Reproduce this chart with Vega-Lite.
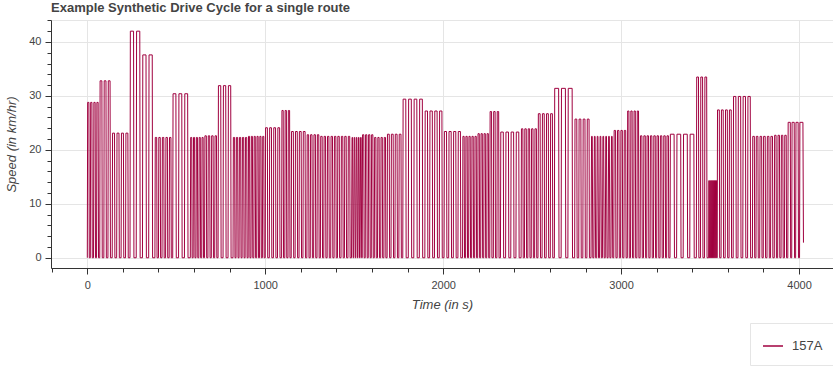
{
"$schema": "https://vega.github.io/schema/vega-lite/v6.json",
"width": 782, "height": 248,
"autosize": "none",
"padding": {"left": 51, "top": 20, "right": 0, "bottom": 105},
"background": "white",
"config": {"view": {"stroke": "#e5e5e5"}, "font": "Liberation Sans"},
"title": {"text": "Example Synthetic Drive Cycle for a single route", "anchor": "start", "frame": "group", "fontSize": 13, "fontWeight": "bold", "color": "#444444", "offset": -1, "font": "Liberation Sans"},
"data": {"values": [
{"t":0,"v":0},{"t":2,"v":28.8},{"t":9,"v":28.8},{"t":11,"v":0},{"t":17,"v":0},{"t":19,"v":28.8},{"t":26,"v":28.8},{"t":28,"v":0},{"t":35,"v":0},{"t":37,"v":28.8},{"t":44,"v":28.8},{"t":46,"v":0},{"t":52,"v":0},{"t":54,"v":28.8},{"t":61,"v":28.8},{"t":63,"v":0},
{"t":70,"v":0},{"t":72,"v":32.8},{"t":82,"v":32.8},{"t":84,"v":0},{"t":93,"v":0},{"t":95,"v":32.8},{"t":105,"v":32.8},{"t":107,"v":0},{"t":116,"v":0},{"t":118,"v":32.8},{"t":128,"v":32.8},{"t":130,"v":0},
{"t":140,"v":0},{"t":142,"v":23.1},{"t":153,"v":23.1},{"t":155,"v":0},{"t":165,"v":0},{"t":167,"v":23.1},{"t":178,"v":23.1},{"t":180,"v":0},{"t":190,"v":0},{"t":192,"v":23.1},{"t":203,"v":23.1},{"t":205,"v":0},{"t":215,"v":0},{"t":217,"v":23.1},{"t":228,"v":23.1},{"t":230,"v":0},
{"t":240,"v":0},{"t":242,"v":42},{"t":260,"v":42},{"t":262,"v":0},{"t":275,"v":0},{"t":277,"v":42},{"t":295,"v":42},{"t":297,"v":0},
{"t":310,"v":0},{"t":312,"v":37.6},{"t":330,"v":37.6},{"t":332,"v":0},{"t":345,"v":0},{"t":347,"v":37.6},{"t":365,"v":37.6},{"t":367,"v":0},
{"t":380,"v":0},{"t":382,"v":22.3},{"t":390,"v":22.3},{"t":392,"v":0},{"t":400,"v":0},{"t":402,"v":22.3},{"t":410,"v":22.3},{"t":412,"v":0},{"t":420,"v":0},{"t":422,"v":22.3},{"t":430,"v":22.3},{"t":432,"v":0},{"t":440,"v":0},{"t":442,"v":22.3},{"t":450,"v":22.3},{"t":452,"v":0},{"t":460,"v":0},{"t":462,"v":22.3},{"t":470,"v":22.3},{"t":472,"v":0},
{"t":480,"v":0},{"t":482,"v":30.4},{"t":498,"v":30.4},{"t":500,"v":0},{"t":513,"v":0},{"t":515,"v":30.4},{"t":531,"v":30.4},{"t":533,"v":0},{"t":546,"v":0},{"t":548,"v":30.4},{"t":564,"v":30.4},{"t":566,"v":0},
{"t":579,"v":0},{"t":581,"v":22.3},{"t":587,"v":22.3},{"t":589,"v":0},{"t":595,"v":0},{"t":597,"v":22.3},{"t":603,"v":22.3},{"t":605,"v":0},{"t":611,"v":0},{"t":613,"v":22.3},{"t":619,"v":22.3},{"t":621,"v":0},{"t":627,"v":0},{"t":629,"v":22.3},{"t":635,"v":22.3},{"t":637,"v":0},{"t":643,"v":0},{"t":645,"v":22.3},{"t":651,"v":22.3},{"t":653,"v":0},
{"t":659,"v":0},{"t":661,"v":22.6},{"t":669,"v":22.6},{"t":671,"v":0},{"t":678,"v":0},{"t":680,"v":22.6},{"t":688,"v":22.6},{"t":690,"v":0},{"t":697,"v":0},{"t":699,"v":22.6},{"t":707,"v":22.6},{"t":709,"v":0},{"t":716,"v":0},{"t":718,"v":22.6},{"t":726,"v":22.6},{"t":728,"v":0},
{"t":735,"v":0},{"t":737,"v":31.9},{"t":750,"v":31.9},{"t":752,"v":0},{"t":763,"v":0},{"t":765,"v":31.9},{"t":778,"v":31.9},{"t":780,"v":0},{"t":791,"v":0},{"t":793,"v":31.9},{"t":806,"v":31.9},{"t":808,"v":0},
{"t":819,"v":0},{"t":821,"v":22.3},{"t":828,"v":22.3},{"t":830,"v":0},{"t":836,"v":0},{"t":838,"v":22.3},{"t":845,"v":22.3},{"t":847,"v":0},{"t":853,"v":0},{"t":855,"v":22.3},{"t":862,"v":22.3},{"t":864,"v":0},{"t":870,"v":0},{"t":872,"v":22.3},{"t":879,"v":22.3},{"t":881,"v":0},{"t":887,"v":0},{"t":889,"v":22.3},{"t":896,"v":22.3},{"t":898,"v":0},
{"t":904,"v":0},{"t":906,"v":22.5},{"t":912,"v":22.5},{"t":914,"v":0},{"t":920,"v":0},{"t":922,"v":22.5},{"t":928,"v":22.5},{"t":930,"v":0},{"t":936,"v":0},{"t":938,"v":22.5},{"t":944,"v":22.5},{"t":946,"v":0},{"t":952,"v":0},{"t":954,"v":22.5},{"t":960,"v":22.5},{"t":962,"v":0},{"t":968,"v":0},{"t":970,"v":22.5},{"t":976,"v":22.5},{"t":978,"v":0},{"t":984,"v":0},{"t":986,"v":22.5},{"t":992,"v":22.5},{"t":994,"v":0},
{"t":1000,"v":0},{"t":1002,"v":24.1},{"t":1012,"v":24.1},{"t":1014,"v":0},{"t":1023,"v":0},{"t":1025,"v":24.1},{"t":1035,"v":24.1},{"t":1037,"v":0},{"t":1046,"v":0},{"t":1048,"v":24.1},{"t":1058,"v":24.1},{"t":1060,"v":0},{"t":1069,"v":0},{"t":1071,"v":24.1},{"t":1081,"v":24.1},{"t":1083,"v":0},
{"t":1092,"v":0},{"t":1094,"v":27.3},{"t":1101,"v":27.3},{"t":1103,"v":0},{"t":1110,"v":0},{"t":1112,"v":27.3},{"t":1119,"v":27.3},{"t":1121,"v":0},{"t":1128,"v":0},{"t":1130,"v":27.3},{"t":1137,"v":27.3},{"t":1139,"v":0},
{"t":1146,"v":0},{"t":1148,"v":23.4},{"t":1158,"v":23.4},{"t":1160,"v":0},{"t":1168,"v":0},{"t":1170,"v":23.4},{"t":1180,"v":23.4},{"t":1182,"v":0},{"t":1190,"v":0},{"t":1192,"v":23.4},{"t":1202,"v":23.4},{"t":1204,"v":0},{"t":1212,"v":0},{"t":1214,"v":23.4},{"t":1224,"v":23.4},{"t":1226,"v":0},
{"t":1234,"v":0},{"t":1236,"v":22.8},{"t":1244,"v":22.8},{"t":1246,"v":0},{"t":1253,"v":0},{"t":1255,"v":22.8},{"t":1263,"v":22.8},{"t":1265,"v":0},{"t":1272,"v":0},{"t":1274,"v":22.8},{"t":1282,"v":22.8},{"t":1284,"v":0},{"t":1291,"v":0},{"t":1293,"v":22.8},{"t":1301,"v":22.8},{"t":1303,"v":0},
{"t":1310,"v":0},{"t":1312,"v":22.5},{"t":1320,"v":22.5},{"t":1322,"v":0},{"t":1329,"v":0},{"t":1331,"v":22.5},{"t":1339,"v":22.5},{"t":1341,"v":0},{"t":1348,"v":0},{"t":1350,"v":22.5},{"t":1358,"v":22.5},{"t":1360,"v":0},{"t":1368,"v":0},{"t":1370,"v":22.5},{"t":1378,"v":22.5},{"t":1380,"v":0},{"t":1387,"v":0},{"t":1389,"v":22.5},{"t":1397,"v":22.5},{"t":1399,"v":0},{"t":1406,"v":0},{"t":1408,"v":22.5},{"t":1416,"v":22.5},{"t":1418,"v":0},{"t":1426,"v":0},{"t":1428,"v":22.5},{"t":1436,"v":22.5},{"t":1438,"v":0},{"t":1445,"v":0},{"t":1447,"v":22.5},{"t":1455,"v":22.5},{"t":1457,"v":0},{"t":1465,"v":0},{"t":1467,"v":22.5},{"t":1475,"v":22.5},{"t":1477,"v":0},
{"t":1485,"v":0},{"t":1488,"v":22.3},{"t":1491,"v":22.3},{"t":1494,"v":0},{"t":1497,"v":0},{"t":1500,"v":22.3},{"t":1503,"v":22.3},{"t":1506,"v":0},{"t":1509,"v":0},{"t":1512,"v":22.3},{"t":1515,"v":22.3},{"t":1518,"v":0},{"t":1521,"v":0},{"t":1524,"v":22.3},{"t":1527,"v":22.3},{"t":1530,"v":0},{"t":1533,"v":0},{"t":1536,"v":22.3},{"t":1539,"v":22.3},{"t":1542,"v":0},
{"t":1545,"v":0},{"t":1547,"v":22.8},{"t":1554,"v":22.8},{"t":1556,"v":0},{"t":1562,"v":0},{"t":1564,"v":22.8},{"t":1571,"v":22.8},{"t":1573,"v":0},{"t":1579,"v":0},{"t":1581,"v":22.8},{"t":1588,"v":22.8},{"t":1590,"v":0},{"t":1596,"v":0},{"t":1598,"v":22.8},{"t":1605,"v":22.8},{"t":1607,"v":0},
{"t":1613,"v":0},{"t":1615,"v":22.3},{"t":1622,"v":22.3},{"t":1624,"v":0},{"t":1631,"v":0},{"t":1633,"v":22.3},{"t":1640,"v":22.3},{"t":1642,"v":0},{"t":1649,"v":0},{"t":1651,"v":22.3},{"t":1658,"v":22.3},{"t":1660,"v":0},{"t":1667,"v":0},{"t":1669,"v":22.3},{"t":1676,"v":22.3},{"t":1678,"v":0},
{"t":1685,"v":0},{"t":1687,"v":22.9},{"t":1697,"v":22.9},{"t":1699,"v":0},{"t":1707,"v":0},{"t":1709,"v":22.9},{"t":1719,"v":22.9},{"t":1721,"v":0},{"t":1729,"v":0},{"t":1731,"v":22.9},{"t":1741,"v":22.9},{"t":1743,"v":0},{"t":1751,"v":0},{"t":1753,"v":22.9},{"t":1763,"v":22.9},{"t":1765,"v":0},
{"t":1773,"v":0},{"t":1775,"v":29.4},{"t":1790,"v":29.4},{"t":1792,"v":0},{"t":1804,"v":0},{"t":1806,"v":29.4},{"t":1821,"v":29.4},{"t":1823,"v":0},{"t":1835,"v":0},{"t":1837,"v":29.4},{"t":1852,"v":29.4},{"t":1854,"v":0},{"t":1866,"v":0},{"t":1868,"v":29.4},{"t":1883,"v":29.4},{"t":1885,"v":0},
{"t":1897,"v":0},{"t":1899,"v":27.2},{"t":1912,"v":27.2},{"t":1914,"v":0},{"t":1924,"v":0},{"t":1926,"v":27.2},{"t":1939,"v":27.2},{"t":1941,"v":0},{"t":1951,"v":0},{"t":1953,"v":27.2},{"t":1966,"v":27.2},{"t":1968,"v":0},{"t":1978,"v":0},{"t":1980,"v":27.2},{"t":1993,"v":27.2},{"t":1995,"v":0},
{"t":2005,"v":0},{"t":2007,"v":23.4},{"t":2019,"v":23.4},{"t":2021,"v":0},{"t":2031,"v":0},{"t":2033,"v":23.4},{"t":2045,"v":23.4},{"t":2047,"v":0},{"t":2057,"v":0},{"t":2059,"v":23.4},{"t":2071,"v":23.4},{"t":2073,"v":0},{"t":2083,"v":0},{"t":2085,"v":23.4},{"t":2097,"v":23.4},{"t":2099,"v":0},
{"t":2109,"v":0},{"t":2111,"v":22.5},{"t":2118,"v":22.5},{"t":2120,"v":0},{"t":2126,"v":0},{"t":2128,"v":22.5},{"t":2135,"v":22.5},{"t":2137,"v":0},{"t":2143,"v":0},{"t":2145,"v":22.5},{"t":2152,"v":22.5},{"t":2154,"v":0},{"t":2160,"v":0},{"t":2162,"v":22.5},{"t":2169,"v":22.5},{"t":2171,"v":0},{"t":2177,"v":0},{"t":2179,"v":22.5},{"t":2186,"v":22.5},{"t":2188,"v":0},
{"t":2194,"v":0},{"t":2196,"v":23},{"t":2203,"v":23},{"t":2205,"v":0},{"t":2211,"v":0},{"t":2213,"v":23},{"t":2220,"v":23},{"t":2222,"v":0},{"t":2228,"v":0},{"t":2230,"v":23},{"t":2237,"v":23},{"t":2239,"v":0},{"t":2245,"v":0},{"t":2247,"v":23},{"t":2254,"v":23},{"t":2256,"v":0},
{"t":2262,"v":0},{"t":2264,"v":27.1},{"t":2272,"v":27.1},{"t":2274,"v":0},{"t":2282,"v":0},{"t":2284,"v":27.1},{"t":2292,"v":27.1},{"t":2294,"v":0},{"t":2302,"v":0},{"t":2304,"v":27.1},{"t":2312,"v":27.1},{"t":2314,"v":0},
{"t":2322,"v":0},{"t":2324,"v":23.3},{"t":2338,"v":23.3},{"t":2340,"v":0},{"t":2351,"v":0},{"t":2353,"v":23.3},{"t":2367,"v":23.3},{"t":2369,"v":0},{"t":2380,"v":0},{"t":2382,"v":23.3},{"t":2396,"v":23.3},{"t":2398,"v":0},{"t":2409,"v":0},{"t":2411,"v":23.3},{"t":2425,"v":23.3},{"t":2427,"v":0},
{"t":2438,"v":0},{"t":2440,"v":23.9},{"t":2448,"v":23.9},{"t":2450,"v":0},{"t":2457,"v":0},{"t":2459,"v":23.9},{"t":2467,"v":23.9},{"t":2469,"v":0},{"t":2476,"v":0},{"t":2478,"v":23.9},{"t":2486,"v":23.9},{"t":2488,"v":0},{"t":2495,"v":0},{"t":2497,"v":23.9},{"t":2505,"v":23.9},{"t":2507,"v":0},{"t":2514,"v":0},{"t":2516,"v":23.9},{"t":2524,"v":23.9},{"t":2526,"v":0},
{"t":2533,"v":0},{"t":2535,"v":26.7},{"t":2545,"v":26.7},{"t":2547,"v":0},{"t":2556,"v":0},{"t":2558,"v":26.7},{"t":2568,"v":26.7},{"t":2570,"v":0},{"t":2579,"v":0},{"t":2581,"v":26.7},{"t":2591,"v":26.7},{"t":2593,"v":0},{"t":2602,"v":0},{"t":2604,"v":26.7},{"t":2614,"v":26.7},{"t":2616,"v":0},
{"t":2625,"v":0},{"t":2627,"v":31.4},{"t":2649,"v":31.4},{"t":2651,"v":0},{"t":2663,"v":0},{"t":2665,"v":31.4},{"t":2687,"v":31.4},{"t":2689,"v":0},{"t":2701,"v":0},{"t":2703,"v":31.4},{"t":2725,"v":31.4},{"t":2727,"v":0},
{"t":2739,"v":0},{"t":2741,"v":25.7},{"t":2751,"v":25.7},{"t":2753,"v":0},{"t":2762,"v":0},{"t":2764,"v":25.7},{"t":2774,"v":25.7},{"t":2776,"v":0},{"t":2785,"v":0},{"t":2787,"v":25.7},{"t":2797,"v":25.7},{"t":2799,"v":0},{"t":2808,"v":0},{"t":2810,"v":25.7},{"t":2820,"v":25.7},{"t":2822,"v":0},
{"t":2831,"v":0},{"t":2834,"v":22.5},{"t":2838,"v":22.5},{"t":2841,"v":0},{"t":2847,"v":0},{"t":2850,"v":22.5},{"t":2854,"v":22.5},{"t":2857,"v":0},{"t":2863,"v":0},{"t":2866,"v":22.5},{"t":2870,"v":22.5},{"t":2873,"v":0},{"t":2879,"v":0},{"t":2882,"v":22.5},{"t":2886,"v":22.5},{"t":2889,"v":0},{"t":2895,"v":0},{"t":2898,"v":22.5},{"t":2902,"v":22.5},{"t":2905,"v":0},{"t":2911,"v":0},{"t":2914,"v":22.5},{"t":2918,"v":22.5},{"t":2921,"v":0},{"t":2927,"v":0},{"t":2930,"v":22.5},{"t":2934,"v":22.5},{"t":2937,"v":0},{"t":2943,"v":0},{"t":2946,"v":22.5},{"t":2950,"v":22.5},{"t":2953,"v":0},
{"t":2959,"v":0},{"t":2961,"v":23.6},{"t":2969,"v":23.6},{"t":2971,"v":0},{"t":2978,"v":0},{"t":2980,"v":23.6},{"t":2988,"v":23.6},{"t":2990,"v":0},{"t":2997,"v":0},{"t":2999,"v":23.6},{"t":3007,"v":23.6},{"t":3009,"v":0},{"t":3016,"v":0},{"t":3018,"v":23.6},{"t":3026,"v":23.6},{"t":3028,"v":0},
{"t":3035,"v":0},{"t":3037,"v":27.2},{"t":3044,"v":27.2},{"t":3046,"v":0},{"t":3053,"v":0},{"t":3055,"v":27.2},{"t":3062,"v":27.2},{"t":3064,"v":0},{"t":3071,"v":0},{"t":3073,"v":27.2},{"t":3080,"v":27.2},{"t":3082,"v":0},{"t":3089,"v":0},{"t":3091,"v":27.2},{"t":3098,"v":27.2},{"t":3100,"v":0},
{"t":3107,"v":0},{"t":3109,"v":22.6},{"t":3117,"v":22.6},{"t":3119,"v":0},{"t":3126,"v":0},{"t":3128,"v":22.6},{"t":3136,"v":22.6},{"t":3138,"v":0},{"t":3144,"v":0},{"t":3146,"v":22.6},{"t":3154,"v":22.6},{"t":3156,"v":0},{"t":3163,"v":0},{"t":3165,"v":22.6},{"t":3173,"v":22.6},{"t":3175,"v":0},{"t":3182,"v":0},{"t":3184,"v":22.6},{"t":3192,"v":22.6},{"t":3194,"v":0},{"t":3200,"v":0},{"t":3202,"v":22.6},{"t":3210,"v":22.6},{"t":3212,"v":0},{"t":3219,"v":0},{"t":3221,"v":22.6},{"t":3229,"v":22.6},{"t":3231,"v":0},{"t":3238,"v":0},{"t":3240,"v":22.6},{"t":3248,"v":22.6},{"t":3250,"v":0},{"t":3256,"v":0},{"t":3258,"v":22.6},{"t":3266,"v":22.6},{"t":3268,"v":0},
{"t":3275,"v":0},{"t":3277,"v":22.9},{"t":3298,"v":22.9},{"t":3300,"v":0},{"t":3312,"v":0},{"t":3314,"v":22.9},{"t":3335,"v":22.9},{"t":3337,"v":0},{"t":3349,"v":0},{"t":3351,"v":22.9},{"t":3372,"v":22.9},{"t":3374,"v":0},{"t":3386,"v":0},{"t":3388,"v":22.9},{"t":3409,"v":22.9},{"t":3411,"v":0},
{"t":3423,"v":0},{"t":3425,"v":33.5},{"t":3435,"v":33.5},{"t":3437,"v":0},{"t":3446,"v":0},{"t":3448,"v":33.5},{"t":3458,"v":33.5},{"t":3460,"v":0},{"t":3469,"v":0},{"t":3471,"v":33.5},{"t":3481,"v":33.5},{"t":3483,"v":0},
{"t":3492,"v":0},{"t":3493.5,"v":14.3},{"t":3494.5,"v":14.3},{"t":3496,"v":0},{"t":3498,"v":0},{"t":3499.5,"v":14.3},{"t":3500.5,"v":14.3},{"t":3502,"v":0},{"t":3504,"v":0},{"t":3505.5,"v":14.3},{"t":3506.5,"v":14.3},{"t":3508,"v":0},{"t":3510,"v":0},{"t":3511.5,"v":14.3},{"t":3512.5,"v":14.3},{"t":3514,"v":0},{"t":3516,"v":0},{"t":3517.5,"v":14.3},{"t":3518.5,"v":14.3},{"t":3520,"v":0},{"t":3522,"v":0},{"t":3523.5,"v":14.3},{"t":3524.5,"v":14.3},{"t":3526,"v":0},{"t":3528,"v":0},{"t":3529.5,"v":14.3},{"t":3530.5,"v":14.3},{"t":3532,"v":0},{"t":3534,"v":0},{"t":3535.5,"v":14.3},{"t":3536.5,"v":14.3},{"t":3538,"v":0},
{"t":3540,"v":0},{"t":3542,"v":27.4},{"t":3552,"v":27.4},{"t":3554,"v":0},{"t":3562,"v":0},{"t":3564,"v":27.4},{"t":3574,"v":27.4},{"t":3576,"v":0},{"t":3585,"v":0},{"t":3587,"v":27.4},{"t":3597,"v":27.4},{"t":3599,"v":0},{"t":3607,"v":0},{"t":3609,"v":27.4},{"t":3619,"v":27.4},{"t":3621,"v":0},
{"t":3630,"v":0},{"t":3632,"v":29.9},{"t":3645,"v":29.9},{"t":3647,"v":0},{"t":3657,"v":0},{"t":3659,"v":29.9},{"t":3672,"v":29.9},{"t":3674,"v":0},{"t":3684,"v":0},{"t":3686,"v":29.9},{"t":3699,"v":29.9},{"t":3701,"v":0},{"t":3711,"v":0},{"t":3713,"v":29.9},{"t":3726,"v":29.9},{"t":3728,"v":0},
{"t":3738,"v":0},{"t":3740,"v":22.5},{"t":3749,"v":22.5},{"t":3751,"v":0},{"t":3758,"v":0},{"t":3760,"v":22.5},{"t":3769,"v":22.5},{"t":3771,"v":0},{"t":3779,"v":0},{"t":3781,"v":22.5},{"t":3790,"v":22.5},{"t":3792,"v":0},{"t":3799,"v":0},{"t":3801,"v":22.5},{"t":3810,"v":22.5},{"t":3812,"v":0},{"t":3820,"v":0},{"t":3822,"v":22.5},{"t":3831,"v":22.5},{"t":3833,"v":0},{"t":3840,"v":0},{"t":3842,"v":22.5},{"t":3851,"v":22.5},{"t":3853,"v":0},
{"t":3861,"v":0},{"t":3863,"v":22.7},{"t":3871,"v":22.7},{"t":3873,"v":0},{"t":3880,"v":0},{"t":3882,"v":22.7},{"t":3890,"v":22.7},{"t":3892,"v":0},{"t":3899,"v":0},{"t":3901,"v":22.7},{"t":3909,"v":22.7},{"t":3911,"v":0},{"t":3918,"v":0},{"t":3920,"v":22.7},{"t":3928,"v":22.7},{"t":3930,"v":0},
{"t":3937,"v":0},{"t":3939,"v":25.1},{"t":3951,"v":25.1},{"t":3953,"v":0},{"t":3959,"v":0},{"t":3961,"v":25.1},{"t":3973,"v":25.1},{"t":3975,"v":0},{"t":3981,"v":0},{"t":3983,"v":25.1},{"t":3995,"v":25.1},{"t":3997,"v":0},{"t":4003,"v":0},{"t":4005,"v":25.1},{"t":4022,"v":25.1},{"t":4025,"v":2.8}
]},
"mark": {"type": "line", "strokeWidth": 1, "clip": true},
"encoding": {
"x": {"field": "t", "type": "quantitative", "scale": {"domain": [-204, 4191], "nice": false, "zero": false},
 "axis": {"title": "Time (in s)", "values": [-200,0,200,400,600,800,1000,1200,1400,1600,1800,2000,2200,2400,2600,2800,3000,3200,3400,3600,3800,4000],
  "labelExpr": "datum.value % 1000 === 0 ? format(datum.value, 'd') : ''", "labelOverlap": false, "labelFlush": false,
  "tickSize": {"condition": {"test": "datum.value % 1000 === 0", "value": 6}, "value": 4},
  "gridOpacity": {"condition": {"test": "datum.value % 1000 === 0", "value": 1}, "value": 0},
  "gridColor": "#e5e5e5", "domainColor": "#333333", "tickColor": "#333333", "labelColor": "#444444", "labelFontSize": 11, "labelPadding": 5,
  "titleFontSize": 13, "titleFontStyle": "italic", "titleFontWeight": "normal", "titleColor": "#444444", "titlePadding": 8}},
"y": {"field": "v", "type": "quantitative", "scale": {"domain": [-1.9, 44.07], "nice": false, "zero": false},
 "axis": {"title": "Speed (in km/hr)", "values": [0,2,4,6,8,10,12,14,16,18,20,22,24,26,28,30,32,34,36,38,40,42,44],
  "labelExpr": "datum.value % 10 === 0 ? format(datum.value, 'd') : ''", "labelOverlap": false, "labelFlush": false,
  "tickSize": {"condition": {"test": "datum.value % 10 === 0", "value": 6}, "value": 4},
  "gridOpacity": {"condition": {"test": "datum.value % 10 === 0", "value": 1}, "value": 0},
  "gridColor": "#e5e5e5", "domainColor": "#333333", "tickColor": "#333333", "labelColor": "#444444", "labelFontSize": 11, "labelPadding": 4,
  "titleFontSize": 13, "titleFontStyle": "italic", "titleFontWeight": "normal", "titleColor": "#444444", "titlePadding": 10}},
"color": {"datum": "157A", "type": "nominal", "scale": {"range": ["#a0003f"]},
 "legend": {"title": null, "orient": "none", "legendX": 699, "legendY": 303, "symbolType": "stroke", "symbolSize": 400, "symbolStrokeWidth": 1.5,
  "labelFontSize": 13, "labelColor": "#444444", "fillColor": "white", "strokeColor": "#e5e5e5", "padding": 12, "labelOffset": 8}}
}
}
